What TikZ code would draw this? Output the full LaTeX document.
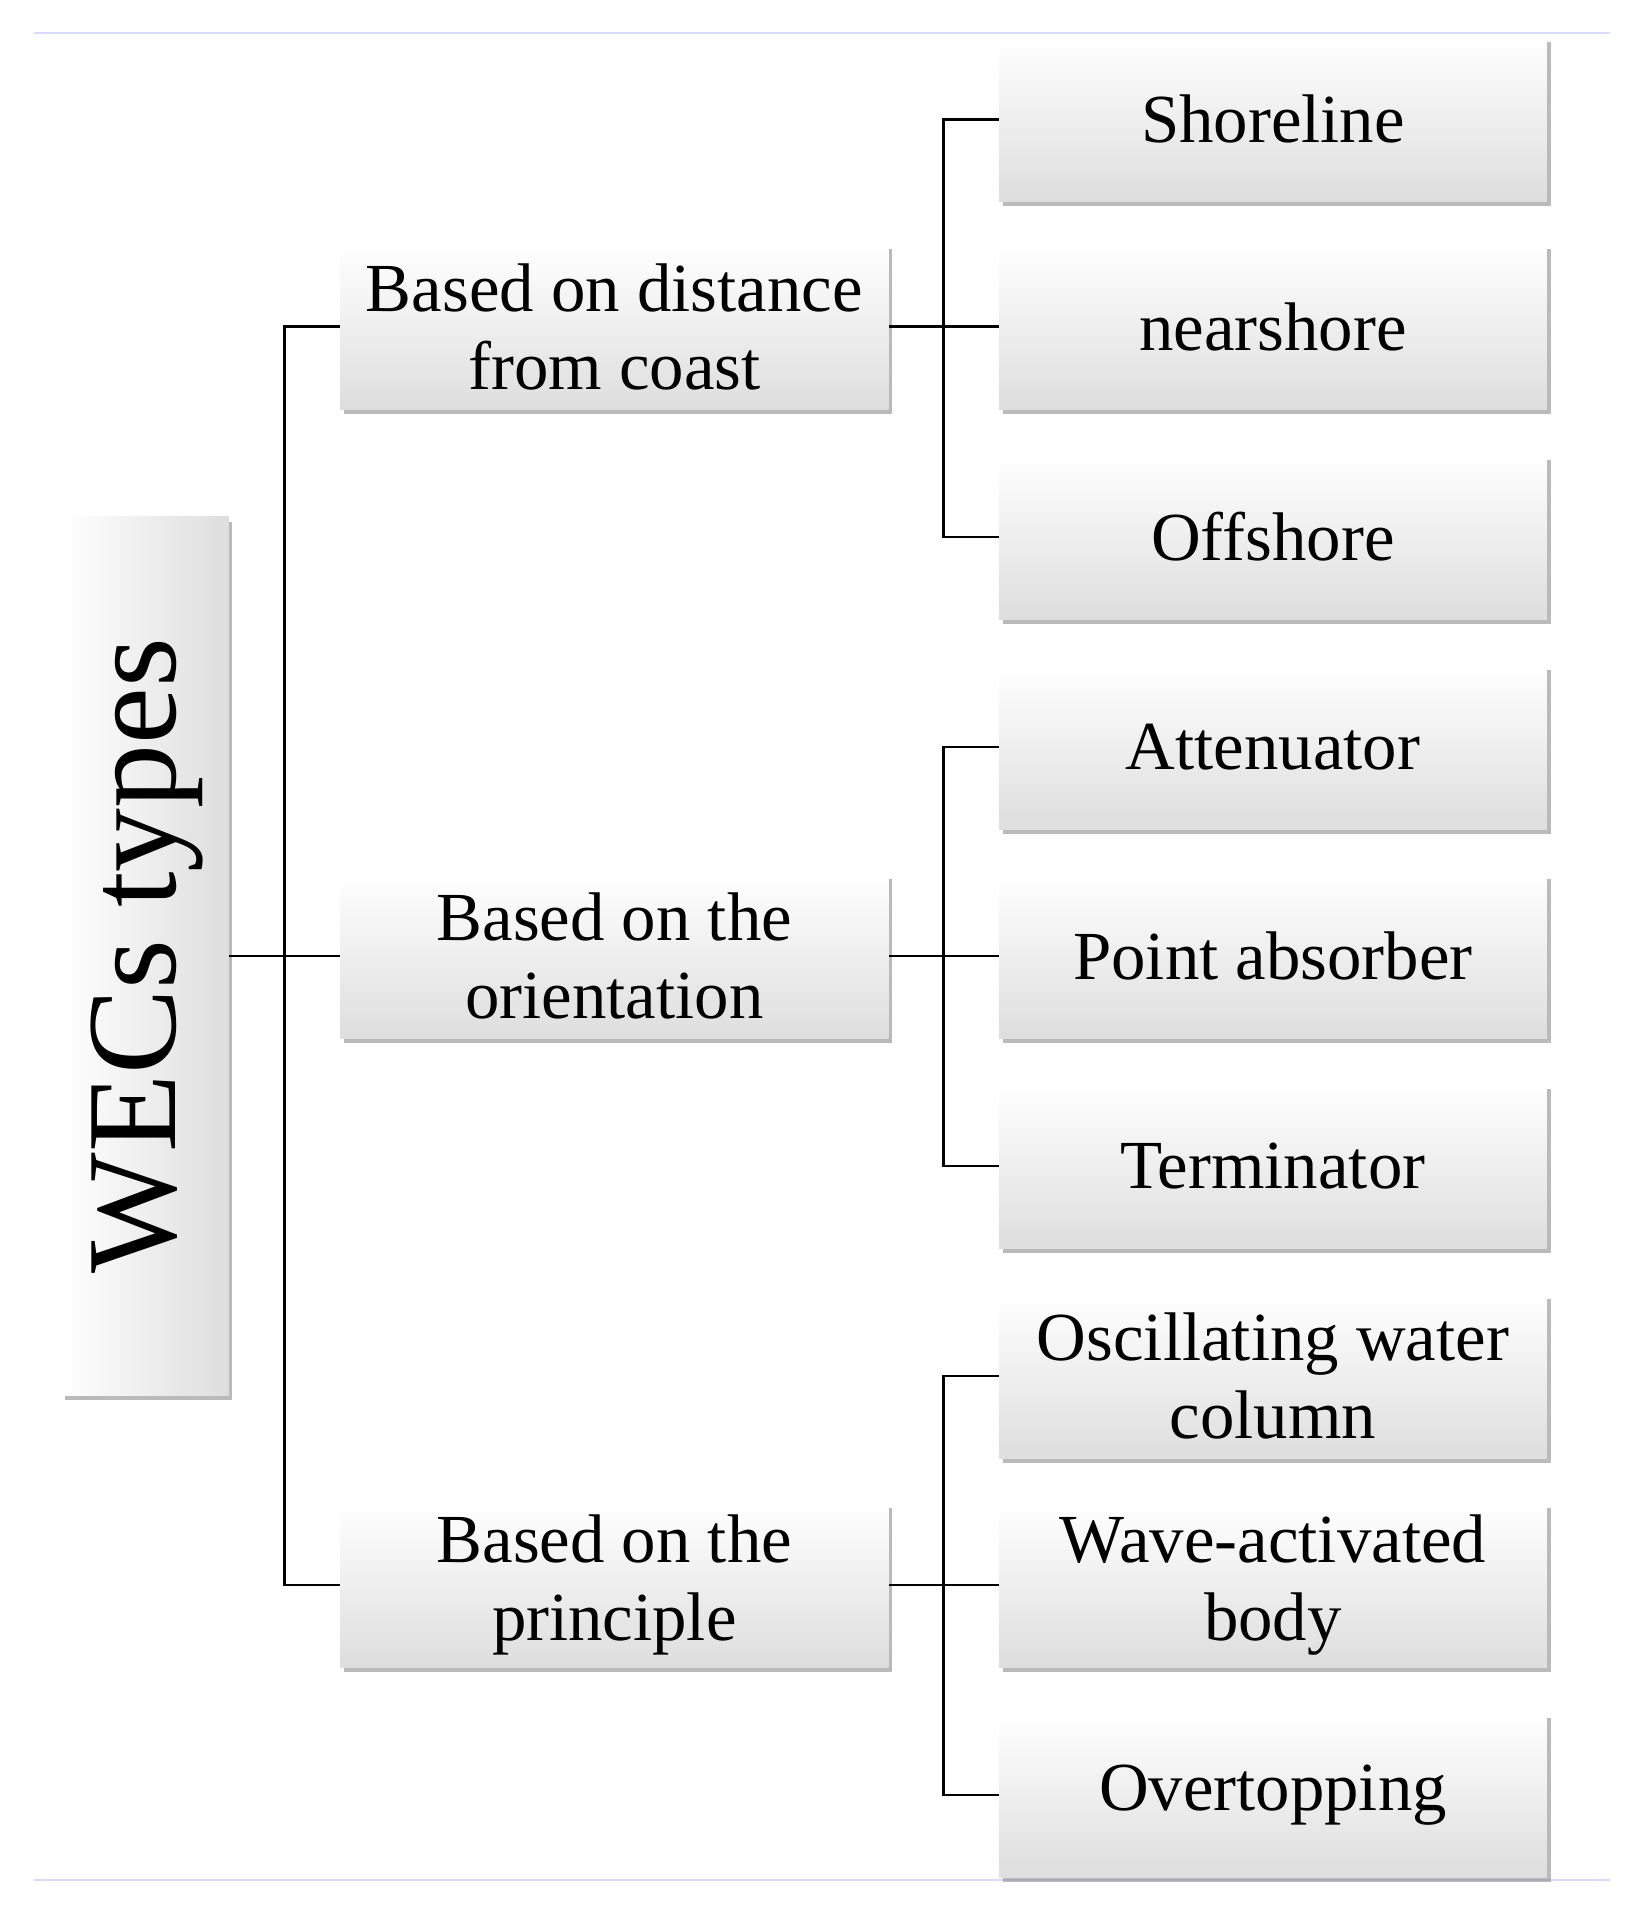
\documentclass[tikz,border=0pt]{standalone}
\usepackage{fontspec}
\setmainfont{Liberation Serif}
\usetikzlibrary{shadows}
\begin{document}
\begin{tikzpicture}[x=1pt,y=-1pt,
  shad/.style={drop shadow={shadow xshift=3pt,shadow yshift=-4pt,fill=black!45,opacity=0.6}},
  box/.style={draw=none,top color=white,bottom color=black!13,shad,
    minimum width=446pt,minimum height=134pt,align=center,inner sep=0pt,
    font=\fontsize{56}{64}\selectfont},
  mid/.style={box},
  conn/.style={line width=2.2pt,black}]
\useasboundingbox (0,0) rectangle (1330,1570);
\draw[blue!15,line width=1.5pt] (28,27) -- (1310,27);
\draw[blue!15,line width=1.5pt] (28,1530) -- (1310,1530);
\node[draw=none,left color=white,right color=black!13,shad,minimum width=136pt,minimum height=715pt,inner sep=0pt] (w) at (118,778) {};
\node[rotate=90,font=\fontsize{104}{110}\selectfont] at (120,778) {WECs types};
\node[mid] (m1) at (500,266) {Based on distance\\from coast};
\node[mid] (m2) at (500,778) {Based on the\\orientation};
\node[mid] (m3) at (500,1290) {Based on the\\principle};
\node[box] (r1) at (1036,97) {Shoreline};
\node[box] (r2) at (1036,266) {nearshore};
\node[box] (r3) at (1036,437) {Offshore};
\node[box] (r4) at (1036,608) {Attenuator};
\node[box] (r5) at (1036,778) {Point absorber};
\node[box] (r6) at (1036,949) {Terminator};
\node[box] (r7) at (1036,1120) {Oscillating water\\column};
\node[box] (r8) at (1036,1290) {Wave-activated\\body};
\node[box] (r9) at (1036,1461) {Overtopping};
\draw[conn] (w.east) -- (m2.west);
\draw[conn] (m1.west) -- ++(-45,0) |- (m3.west);
\foreach \m/\a/\b/\c in {m1/r1/r2/r3,m2/r4/r5/r6,m3/r7/r8/r9}{
  \draw[conn] (\m.east) -- (\b.west);
  \draw[conn] (\a.west) -- ++(-45,0) |- (\c.west);
}
\end{tikzpicture}
\end{document}
